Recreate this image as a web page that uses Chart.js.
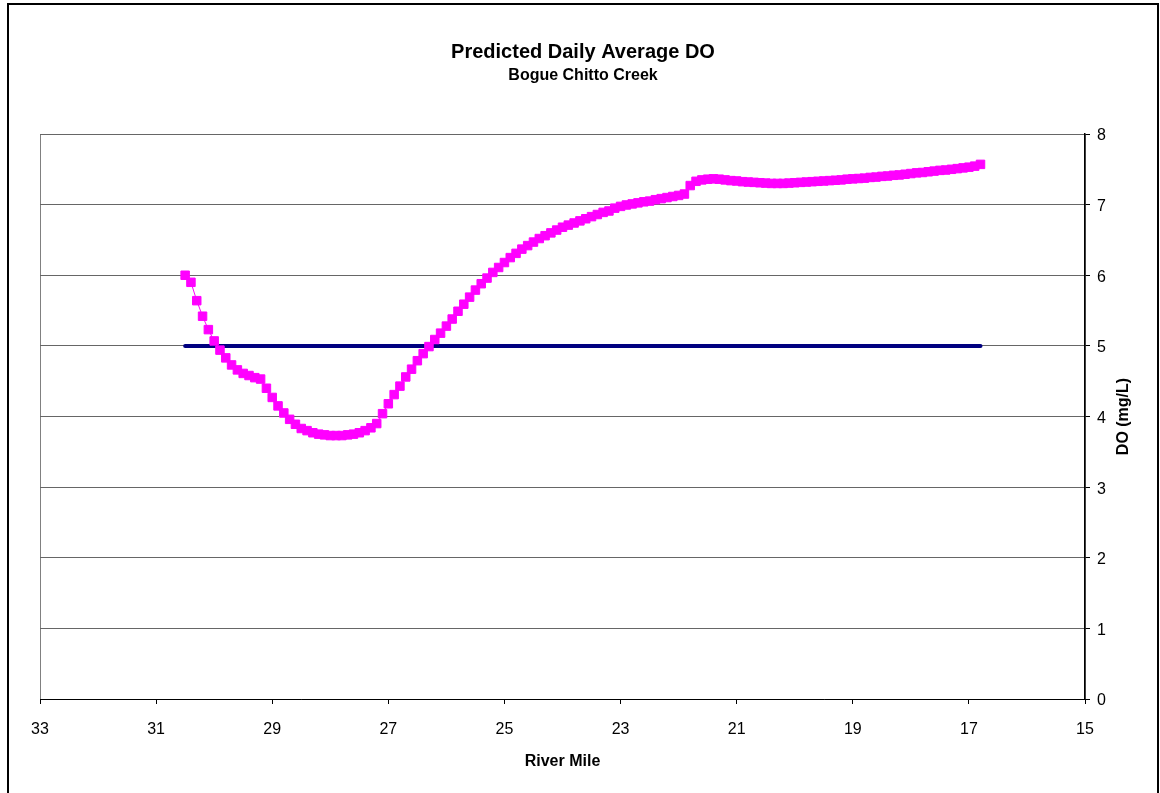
<!DOCTYPE html>
<html>
<head>
<meta charset="utf-8">
<script src="https://cdn.jsdelivr.net/npm/chart.js@4.4.1/dist/chart.umd.min.js"></script>
<style>
  html, body { margin: 0; padding: 0; background: #fff; }
  canvas { display: block; }
</style>
</head>
<body>
<canvas id="chart" width="1160" height="793"></canvas>
<script>
const chartTitle = 'Predicted Daily Average DO';
const chartSubtitle = 'Bogue Chitto Creek';
const xTitle = 'River Mile';
const yTitle = 'DO (mg/L)';

// River mile of each model element (upstream -> downstream)
const riverMile = [
    30.5, 30.4, 30.3, 30.2, 30.1, 30.0, 29.9, 29.8, 29.7, 29.6,
    29.5, 29.4, 29.3, 29.2, 29.1, 29.0, 28.9, 28.8, 28.7, 28.6,
    28.5, 28.4, 28.3, 28.2, 28.1, 28.0, 27.9, 27.8, 27.7, 27.6,
    27.5, 27.4, 27.3, 27.2, 27.1, 27.0, 26.9, 26.8, 26.7, 26.6,
    26.5, 26.4, 26.3, 26.2, 26.1, 26.0, 25.9, 25.8, 25.7, 25.6,
    25.5, 25.4, 25.3, 25.2, 25.1, 25.0, 24.9, 24.8, 24.7, 24.6,
    24.5, 24.4, 24.3, 24.2, 24.1, 24.0, 23.9, 23.8, 23.7, 23.6,
    23.5, 23.4, 23.3, 23.2, 23.1, 23.0, 22.9, 22.8, 22.7, 22.6,
    22.5, 22.4, 22.3, 22.2, 22.1, 22.0, 21.9, 21.8, 21.7, 21.6,
    21.5, 21.4, 21.3, 21.2, 21.1, 21.0, 20.9, 20.8, 20.7, 20.6,
    20.5, 20.4, 20.3, 20.2, 20.1, 20.0, 19.9, 19.8, 19.7, 19.6,
    19.5, 19.4, 19.3, 19.2, 19.1, 19.0, 18.9, 18.8, 18.7, 18.6,
    18.5, 18.4, 18.3, 18.2, 18.1, 18.0, 17.9, 17.8, 17.7, 17.6,
    17.5, 17.4, 17.3, 17.2, 17.1, 17.0, 16.9, 16.8
];

// Predicted daily average DO (mg/L)
const doValues = [
    6.00, 5.90, 5.64, 5.42, 5.23, 5.07, 4.94, 4.83, 4.73, 4.66,
    4.61, 4.58, 4.55, 4.53, 4.40, 4.27, 4.15, 4.05, 3.96, 3.89,
    3.83, 3.80, 3.77, 3.75, 3.74, 3.73, 3.73, 3.73, 3.74, 3.75,
    3.77, 3.80, 3.84, 3.90, 4.04, 4.18, 4.31, 4.43, 4.56, 4.67,
    4.79, 4.89, 4.99, 5.09, 5.18, 5.28, 5.38, 5.49, 5.59, 5.69,
    5.79, 5.88, 5.96, 6.04, 6.11, 6.18, 6.25, 6.31, 6.37, 6.42,
    6.47, 6.52, 6.56, 6.60, 6.64, 6.68, 6.71, 6.74, 6.77, 6.80,
    6.83, 6.86, 6.89, 6.91, 6.95, 6.975, 6.995, 7.01, 7.025, 7.04,
    7.05, 7.07, 7.085, 7.10, 7.115, 7.13, 7.15, 7.27, 7.33, 7.35,
    7.36, 7.365, 7.36, 7.35, 7.34, 7.335, 7.325, 7.32, 7.315, 7.31,
    7.305, 7.30, 7.30, 7.30, 7.305, 7.31, 7.315, 7.32, 7.325, 7.33,
    7.335, 7.34, 7.345, 7.35, 7.36, 7.365, 7.37, 7.375, 7.385, 7.39,
    7.40, 7.405, 7.415, 7.42, 7.43, 7.44, 7.45, 7.455, 7.465, 7.475,
    7.485, 7.49, 7.50, 7.51, 7.52, 7.53, 7.545, 7.57
];

// DO standard line
const standardMiles = [30.5, 16.8];
const standardValues = [5, 5];

const FONT = '"Liberation Sans", Arial, Helvetica, sans-serif';

const pageDecor = {
    id: 'pageDecor',
    beforeDraw(chart) {
        const ctx = chart.ctx;
        const a = chart.chartArea;
        ctx.save();
        ctx.fillStyle = '#fff';
        ctx.fillRect(0, 0, chart.width, chart.height);
        // outer frame
        ctx.strokeStyle = '#000';
        ctx.lineWidth = 2;
        ctx.strokeRect(8, 4, 1150, 820);
        // plot area border
        ctx.strokeStyle = '#808080';
        ctx.lineWidth = 1;
        ctx.strokeRect(a.left + 0.5, a.top + 0.5, a.right - a.left, a.bottom - a.top);
        ctx.restore();
    },
    afterDraw(chart) {
        const ctx = chart.ctx;
        const a = chart.chartArea;
        ctx.save();
        ctx.fillStyle = '#000';
        ctx.textAlign = 'center';
        ctx.textBaseline = 'middle';
        ctx.font = 'bold 20px ' + FONT;
        ctx.fillText(chartTitle, 583, 52);
        ctx.font = 'bold 16px ' + FONT;
        ctx.fillText(chartSubtitle, 583, 76);
        // right axis title, reading bottom to top
        ctx.translate(1124, (a.top + a.bottom) / 2);
        ctx.rotate(-Math.PI / 2);
        ctx.fillText(yTitle, 0, 0);
        ctx.restore();
    }
};

const ctx = document.getElementById('chart').getContext('2d');
new Chart(ctx, {
    type: 'line',
    data: {
        datasets: [
            {
                label: 'Predicted DO',
                data: riverMile.map((m, i) => ({ x: m, y: doValues[i] })),
                borderColor: '#ff00ff',
                borderWidth: 1,
                backgroundColor: '#ff00ff',
                pointStyle: 'rect',
                pointRadius: 6,
                pointBorderWidth: 1,
                pointBorderColor: '#ff00ff',
                pointBackgroundColor: '#ff00ff',
                tension: 0
            },
            {
                label: 'DO Standard',
                data: standardMiles.map((m, i) => ({ x: m, y: standardValues[i] })),
                borderColor: '#000080',
                borderWidth: 4,
                borderCapStyle: 'round',
                pointRadius: 0,
                tension: 0
            }
        ]
    },
    options: {
        responsive: false,
        animation: false,
        layout: { padding: { left: 40, top: 134, right: 0, bottom: 0 } },
        plugins: {
            legend: { display: false },
            tooltip: { enabled: false },
            title: { display: false }
        },
        scales: {
            x: {
                type: 'linear',
                reverse: true,
                min: 15,
                max: 33,
                afterFit(scale) { scale.height = 94; },
                ticks: {
                    stepSize: 2,
                    maxRotation: 0,
                    padding: 16,
                    color: '#000',
                    font: { family: FONT, size: 16 }
                },
                grid: { drawOnChartArea: false, drawTicks: true, tickLength: 5, tickColor: '#000' },
                border: { color: '#000', width: 1 },
                title: {
                    display: true,
                    text: xTitle,
                    color: '#000',
                    font: { family: FONT, size: 16, weight: 'bold' },
                    padding: { top: 0, bottom: 22 }
                }
            },
            y: {
                position: 'right',
                min: 0,
                max: 8,
                afterFit(scale) { scale.width = 75; },
                ticks: {
                    stepSize: 1,
                    padding: 7,
                    labelOffset: 2,
                    color: '#000',
                    font: { family: FONT, size: 16 }
                },
                grid: { color: '#666', tickColor: '#000', tickLength: 5 },
                border: { color: '#000', width: 1.5 }
            }
        }
    },
    plugins: [pageDecor]
});
</script>
</body>
</html>
